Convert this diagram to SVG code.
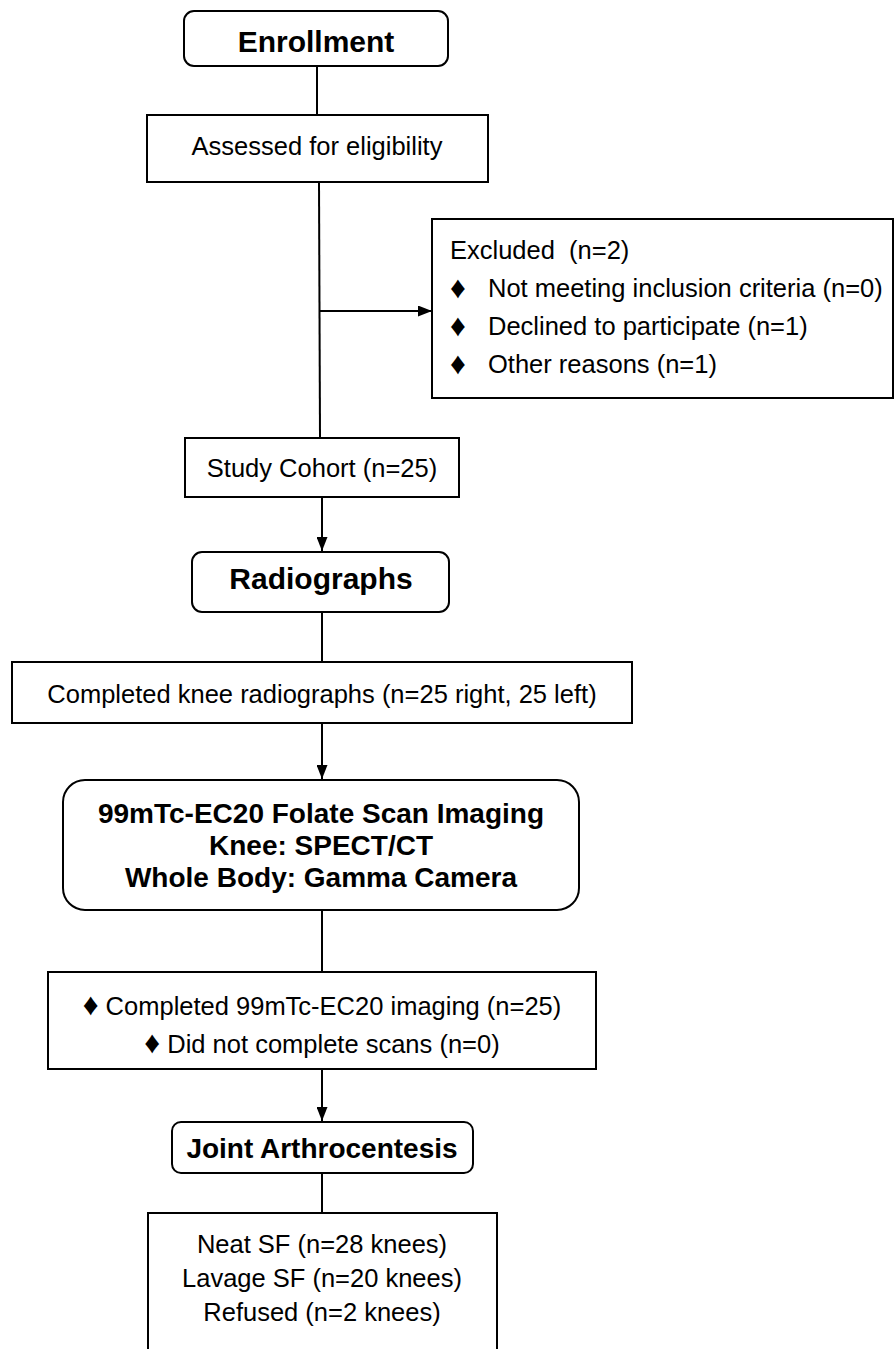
<svg xmlns="http://www.w3.org/2000/svg" width="895" height="1349" viewBox="0 0 895 1349">
<style>
  .box{fill:#fff;stroke:#000;stroke-width:2}
  .t{font-family:"Liberation Sans",Arial,sans-serif;font-size:25.5px;fill:#000}
  .c{text-anchor:middle}
  .b{font-weight:bold;font-size:28px}
  .d{font-size:31px}
  .ln{stroke:#000;stroke-width:2;fill:none}
</style>
<defs>
  <marker id="ah" viewBox="0 0 14 11" refX="14" refY="5.5" markerWidth="14" markerHeight="11" markerUnits="userSpaceOnUse" orient="auto">
    <path d="M0,0 L14,5.5 L0,11 Z" fill="#000"/>
  </marker>
</defs>
<rect width="895" height="1349" fill="#fff"/>
<g id="connectors">
  <line class="ln" x1="317" y1="66" x2="317" y2="115"/>
  <line class="ln" x1="319" y1="182" x2="320" y2="438"/>
  <line class="ln" x1="319" y1="311" x2="432" y2="311" marker-end="url(#ah)"/>
  <line class="ln" x1="322" y1="497" x2="322" y2="551" marker-end="url(#ah)"/>
  <line class="ln" x1="322" y1="612" x2="322" y2="662"/>
  <line class="ln" x1="322" y1="723" x2="322" y2="779" marker-end="url(#ah)"/>
  <line class="ln" x1="322" y1="910" x2="322" y2="972"/>
  <line class="ln" x1="322" y1="1069" x2="322" y2="1121" marker-end="url(#ah)"/>
  <line class="ln" x1="322" y1="1173" x2="322" y2="1213"/>
</g>
<g id="enrollment">
  <rect class="box" x="184" y="11" width="264" height="55" rx="10"/>
  <text class="t c b" x="316" y="52" style="font-size:30px">Enrollment</text>
</g>
<g id="assessed">
  <rect class="box" x="147" y="115" width="341" height="67"/>
  <text class="t c" x="317" y="155">Assessed for eligibility</text>
</g>
<g id="excluded">
  <rect class="box" x="432" y="219" width="461" height="179"/>
  <text class="t" x="450" y="259" xml:space="preserve">Excluded  (n=2)</text>
  <text class="t d" x="450" y="298">♦</text>
  <text class="t" x="488" y="297">Not meeting inclusion criteria (n=0)</text>
  <text class="t d" x="450" y="336">♦</text>
  <text class="t" x="488" y="335">Declined to participate (n=1)</text>
  <text class="t d" x="450" y="374">♦</text>
  <text class="t" x="488" y="373">Other reasons (n=1)</text>
</g>
<g id="cohort">
  <rect class="box" x="185" y="438" width="274" height="59"/>
  <text class="t c" x="322" y="477">Study Cohort (n=25)</text>
</g>
<g id="radiographs">
  <rect class="box" x="192" y="552" width="257" height="60" rx="10"/>
  <text class="t c b" x="321" y="589" style="font-size:30px">Radiographs</text>
</g>
<g id="knee-radiographs">
  <rect class="box" x="12" y="662" width="620" height="61"/>
  <text class="t c" x="322" y="703">Completed knee radiographs (n=25 right, 25 left)</text>
</g>
<g id="folate-scan">
  <rect class="box" x="63" y="780" width="516" height="130" rx="22"/>
  <text class="t c b" x="321" y="823">99mTc-EC20 Folate Scan Imaging</text>
  <text class="t c b" x="321" y="855">Knee: SPECT/CT</text>
  <text class="t c b" x="321" y="887">Whole Body: Gamma Camera</text>
</g>
<g id="imaging-result">
  <rect class="box" x="48" y="972" width="548" height="97"/>
  <text class="t c" x="322" y="1015"><tspan class="d">♦</tspan> Completed 99mTc-EC20 imaging (n=25)</text>
  <text class="t c" x="322" y="1053"><tspan class="d">♦</tspan> Did not complete scans (n=0)</text>
</g>
<g id="arthrocentesis">
  <rect class="box" x="172" y="1122" width="301" height="51" rx="9"/>
  <text class="t c b" x="322" y="1158">Joint Arthrocentesis</text>
</g>
<g id="sf">
  <path class="ln" d="M148,1352 V1213 H497 V1352"/>
  <text class="t c" x="322" y="1253">Neat SF (n=28 knees)</text>
  <text class="t c" x="322" y="1287">Lavage SF (n=20 knees)</text>
  <text class="t c" x="322" y="1321">Refused (n=2 knees)</text>
</g>
</svg>
